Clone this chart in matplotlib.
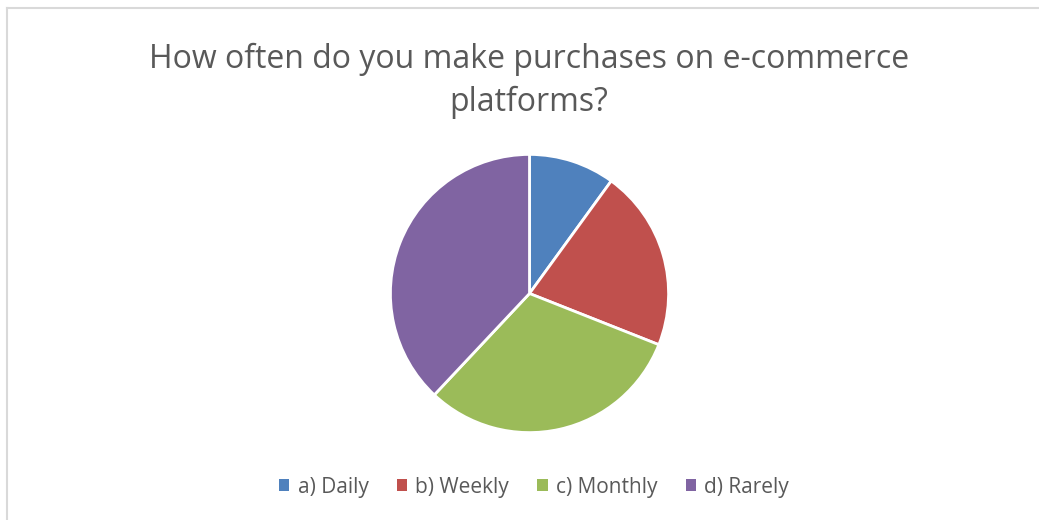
import matplotlib.pyplot as plt
from matplotlib.lines import Line2D
from matplotlib.patches import Patch

plt.rcParams['font.family'] = ['Open Sans', 'DejaVu Sans']

title = "How often do you make purchases on e-commerce\nplatforms?"
labels = ["a) Daily", "b) Weekly", "c) Monthly", "d) Rarely"]
shares = [10, 21, 31, 38]
colors = ["#4F81BD", "#C0504D", "#9BBB59", "#8064A2"]

fig = plt.figure(figsize=(10.39, 5.2), dpi=100)
fig.patch.set_facecolor("white")

# light frame on the top and left edges
fig.add_artist(Line2D([7 / 1039, 7 / 1039], [0, 1 - 8 / 520], color="#D9D9D9", lw=1.5))
fig.add_artist(Line2D([7 / 1039, 1], [1 - 8 / 520, 1 - 8 / 520], color="#D9D9D9", lw=1.5))

fig.text(0.509, 0.844, title, ha="center", va="center", fontsize=23,
         color="#595959", linespacing=1.4)

ax = fig.add_axes([390 / 1039, 87 / 520, 279 / 1039, 279 / 520])
ax.pie(shares, colors=colors, startangle=90, counterclock=False,
       wedgeprops=dict(edgecolor="white", linewidth=2))
ax.set_xlim(-1.003, 1.003)
ax.set_ylim(-1.003, 1.003)
ax.set_aspect("equal")
ax.axis("off")

handles = [Patch(facecolor=c, edgecolor="none") for c in colors]
fig.legend(handles, labels, loc="center", bbox_to_anchor=(0.514, 1 - 487 / 520),
           ncol=4, frameon=False, fontsize=15, labelcolor="#595959",
           handlelength=0.5, handleheight=0.5, handletextpad=0.4, columnspacing=1.35)

fig.savefig("out.png", dpi=100)
